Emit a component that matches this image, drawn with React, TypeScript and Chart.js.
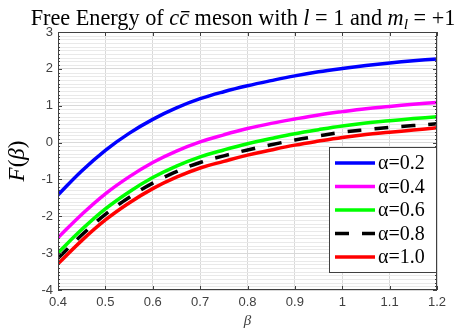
import React, { useEffect, useRef } from "react";
import { Chart, registerables } from "chart.js";

Chart.register(...registerables);

// Inverse temperature samples
const betas = [0.4, 0.45, 0.5, 0.55, 0.6, 0.65, 0.7, 0.75, 0.8, 0.85, 0.9, 0.95, 1.0, 1.05, 1.1, 1.15, 1.2];

// Free energy F(beta) for each alpha
const F_alpha02 = [-1.42, -0.77, -0.21, 0.25, 0.63, 0.94, 1.19, 1.38, 1.54, 1.68, 1.81, 1.92, 2.01, 2.09, 2.16, 2.22, 2.27];
const F_alpha04 = [-2.58, -1.95, -1.39, -0.93, -0.54, -0.23, 0.02, 0.21, 0.38, 0.52, 0.64, 0.75, 0.84, 0.92, 0.98, 1.04, 1.09];
const F_alpha06 = [-2.99, -2.36, -1.8, -1.34, -0.95, -0.64, -0.39, -0.2, -0.03, 0.11, 0.24, 0.35, 0.45, 0.53, 0.59, 0.65, 0.7];
const F_alpha08 = [-3.14, -2.51, -1.95, -1.49, -1.1, -0.79, -0.54, -0.36, -0.2, -0.06, 0.07, 0.18, 0.28, 0.35, 0.41, 0.46, 0.51];
const F_alpha10 = [-3.29, -2.66, -2.1, -1.64, -1.25, -0.94, -0.69, -0.51, -0.34, -0.2, -0.07, 0.04, 0.14, 0.22, 0.28, 0.34, 0.4];

const seriesLabels = ["α=0.2", "α=0.4", "α=0.6", "α=0.8", "α=1.0"];
const seriesValues = [F_alpha02, F_alpha04, F_alpha06, F_alpha08, F_alpha10];
const seriesColors = ["#0000ff", "#ff00ff", "#00ff00", "#000000", "#ff0000"];
const seriesDash: number[][] = [[], [], [], [14, 13], []];
const seriesOrder = [4, 3, 2, 0, 1];

const xMin = 0.4;
const xMax = 1.2;
const xStep = 0.1;
const yMin = -4;
const yMax = 3;

const SERIF = "'Liberation Serif', 'Times New Roman', serif";
const SANS = "'Liberation Sans', Arial, sans-serif";
const AXIS = "#404040";

type Piece = { t: string; it?: boolean; bar?: boolean; sub?: boolean };

const titlePieces: Piece[] = [
  { t: "Free Energy of " },
  { t: "c", it: true },
  { t: "c", it: true, bar: true },
  { t: " meson with " },
  { t: "l", it: true },
  { t: " = 1 and " },
  { t: "m", it: true },
  { t: "l", it: true, sub: true },
  { t: " = +1" },
];

const yLabelPieces: Piece[] = [
  { t: "F", it: true },
  { t: "(" },
  { t: "β", it: true },
  { t: ")" },
];

function pieceFont(p: Piece, size: number) {
  const s = p.sub ? size * 0.7 : size;
  return `${p.it ? "italic " : ""}${s}px ${SERIF}`;
}

function measurePieces(ctx: CanvasRenderingContext2D, pieces: Piece[], size: number) {
  let w = 0;
  for (const p of pieces) {
    ctx.font = pieceFont(p, size);
    w += ctx.measureText(p.t).width;
  }
  return w;
}

function drawPieces(ctx: CanvasRenderingContext2D, pieces: Piece[], size: number, x0: number, y: number) {
  let x = x0;
  for (const p of pieces) {
    ctx.font = pieceFont(p, size);
    const w = ctx.measureText(p.t).width;
    const yy = p.sub ? y + size * 0.2 : y;
    ctx.fillText(p.t, x, yy);
    if (p.bar) {
      ctx.save();
      ctx.lineWidth = Math.max(1, size * 0.06);
      ctx.beginPath();
      ctx.moveTo(x + w * 0.2, y - size * 0.6);
      ctx.lineTo(x + w * 1.05, y - size * 0.6);
      ctx.strokeStyle = ctx.fillStyle as string;
      ctx.stroke();
      ctx.restore();
    }
    x += w;
  }
}

const decorations = {
  id: "decorations",
  beforeDatasetsDraw(chart: any) {
    const { ctx, chartArea: a, scales } = chart;
    const y = scales.y;
    ctx.save();
    ctx.beginPath();
    ctx.rect(a.left, a.top, a.right - a.left, a.bottom - a.top);
    ctx.clip();
    // minor horizontal grid every 0.1
    ctx.strokeStyle = "#e9e9e9";
    ctx.lineWidth = 1;
    for (let k = yMin * 10; k <= yMax * 10; k++) {
      if (k % 10 === 0) continue;
      const py = Math.round(y.getPixelForValue(k / 10)) + 0.5;
      ctx.beginPath();
      ctx.moveTo(a.left, py);
      ctx.lineTo(a.right, py);
      ctx.stroke();
    }
    ctx.restore();
  },
  afterDatasetsDraw(chart: any) {
    const { ctx, chartArea: a, scales } = chart;
    const x = scales.x;
    const y = scales.y;
    ctx.save();
    ctx.strokeStyle = AXIS;
    ctx.lineWidth = 1;
    // box
    ctx.strokeRect(a.left + 0.5, a.top + 0.5, a.right - a.left - 1, a.bottom - a.top - 1);
    // x ticks pointing inward, bottom and top
    const nx = Math.round((xMax - xMin) / xStep);
    for (let i = 0; i <= nx; i++) {
      const px = Math.round(x.getPixelForValue(xMin + i * xStep)) + 0.5;
      ctx.beginPath();
      ctx.moveTo(px, a.bottom);
      ctx.lineTo(px, a.bottom - 4);
      ctx.moveTo(px, a.top);
      ctx.lineTo(px, a.top + 4);
      ctx.stroke();
    }
    // y ticks (major + minor) pointing inward, left and right
    for (let k = yMin * 10; k <= yMax * 10; k++) {
      const len = k % 10 === 0 ? 4 : 2;
      const py = Math.round(y.getPixelForValue(k / 10)) + 0.5;
      ctx.beginPath();
      ctx.moveTo(a.left, py);
      ctx.lineTo(a.left + len, py);
      ctx.moveTo(a.right, py);
      ctx.lineTo(a.right - len, py);
      ctx.stroke();
    }
    ctx.restore();
  },
  afterDraw(chart: any) {
    const { ctx, chartArea: a } = chart;
    ctx.save();

    // title
    ctx.fillStyle = "#000";
    ctx.textBaseline = "alphabetic";
    ctx.textAlign = "left";
    const base = 20;
    const w0 = measurePieces(ctx, titlePieces, base);
    const tSize = (base * 425) / w0;
    const tw = measurePieces(ctx, titlePieces, tSize);
    drawPieces(ctx, titlePieces, tSize, 243 - tw / 2, 25);

    // y-axis label
    ctx.save();
    ctx.translate(18, 161);
    ctx.rotate(-Math.PI / 2);
    ctx.textBaseline = "middle";
    const ySize = 23;
    const yw = measurePieces(ctx, yLabelPieces, ySize);
    drawPieces(ctx, yLabelPieces, ySize, -yw / 2, 0);
    ctx.restore();

    // x-axis label
    ctx.fillStyle = AXIS;
    ctx.font = `italic 15px ${SERIF}`;
    ctx.textAlign = "center";
    ctx.textBaseline = "middle";
    ctx.fillText("β", (a.left + a.right) / 2, 321);

    // legend
    const bx = a.right - 108;
    const by = a.bottom - 143;
    const bw = 108;
    const bh = 126;
    ctx.fillStyle = "#fff";
    ctx.fillRect(bx, by, bw, bh);
    ctx.strokeStyle = AXIS;
    ctx.lineWidth = 1;
    ctx.strokeRect(bx + 0.5, by + 0.5, bw - 1, bh - 1);
    ctx.textAlign = "left";
    ctx.textBaseline = "middle";
    ctx.font = `20px ${SERIF}`;
    for (let i = 0; i < seriesLabels.length; i++) {
      const ry = by + 16 + i * 23.5;
      ctx.save();
      ctx.strokeStyle = seriesColors[i];
      ctx.lineWidth = 3.5;
      ctx.setLineDash(seriesDash[i]);
      ctx.beginPath();
      ctx.moveTo(bx + 6, ry);
      ctx.lineTo(bx + 46, ry);
      ctx.stroke();
      ctx.restore();
      ctx.fillStyle = "#000";
      ctx.fillText(seriesLabels[i], bx + 49, ry + 1);
    }
    ctx.restore();
  },
};

export default function App() {
  const canvasRef = useRef<HTMLCanvasElement | null>(null);

  useEffect(() => {
    const canvas = canvasRef.current;
    if (!canvas) return;
    const chart = new Chart(canvas, {
      type: "line",
      data: {
        datasets: seriesValues.map((vals, i) => ({
          label: seriesLabels[i],
          data: betas.map((b, j) => ({ x: b, y: vals[j] })),
          borderColor: seriesColors[i],
          backgroundColor: seriesColors[i],
          borderWidth: 3.5,
          borderDash: seriesDash[i],
          borderCapStyle: "butt" as const,
          pointRadius: 0,
          tension: 0.4,
          fill: false,
          order: seriesOrder[i],
        })),
      },
      options: {
        animation: false,
        responsive: false,
        maintainAspectRatio: false,
        devicePixelRatio: 1,
        layout: { padding: { left: 0, right: 19, top: 32, bottom: 0 } },
        plugins: {
          legend: { display: false },
          title: { display: false },
          tooltip: { enabled: false },
        },
        scales: {
          x: {
            type: "linear",
            min: xMin,
            max: xMax,
            ticks: {
              stepSize: xStep,
              autoSkip: false,
              maxRotation: 0,
              padding: 5,
              color: AXIS,
              font: { family: SANS, size: 13 },
              callback: (v: any) => String(Math.round(Number(v) * 10) / 10),
            },
            grid: { color: "#d9d9d9", drawTicks: false },
            border: { display: false },
            afterFit: (s: any) => {
              s.height = 38;
            },
          },
          y: {
            type: "linear",
            min: yMin,
            max: yMax,
            ticks: {
              stepSize: 1,
              autoSkip: false,
              padding: 5,
              color: AXIS,
              font: { family: SANS, size: 13 },
              callback: (v: any) => String(Math.round(Number(v))),
            },
            grid: { color: "#d9d9d9", drawTicks: false },
            border: { display: false },
            afterFit: (s: any) => {
              s.width = 58;
            },
          },
        },
      },
      plugins: [decorations],
    });
    return () => chart.destroy();
  }, []);

  return (
    <div style={{ position: "absolute", left: 0, top: 0, width: 456, height: 328, background: "#fff" }}>
      <canvas ref={canvasRef} width={456} height={328} style={{ width: 456, height: 328 }} />
    </div>
  );
}
